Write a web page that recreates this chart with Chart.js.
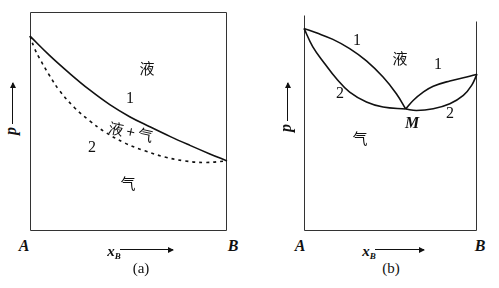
<!DOCTYPE html>
<html>
<head>
<meta charset="utf-8">
<script src="https://cdn.jsdelivr.net/npm/chart.js@4.4.1/dist/chart.umd.min.js"></script>
<style>
body{margin:0;background:#fff;width:499px;height:288px;position:relative;overflow:hidden;color:#111;font-family:"Liberation Serif","DejaVu Serif",serif}
canvas{position:absolute}
.t{position:absolute;transform:translate(-50%,-50%);white-space:nowrap;line-height:1}
.cn{font-family:"Noto Sans CJK SC",sans-serif;font-size:15px}
.num{font-size:16px}
.ab{font-size:16px;font-style:italic;font-weight:bold}
.cap{font-size:15px}
.xb{font-size:15px;font-style:italic;font-weight:bold}
.xb sub{font-size:9px;vertical-align:-3px}
.harrow{position:absolute;height:0;border-top:1px solid #111}
.harrow:after{content:"";position:absolute;right:-1px;top:-3.5px;border-left:6px solid #111;border-top:3px solid transparent;border-bottom:3px solid transparent}
.varrow{position:absolute;width:0;border-left:1px solid #111}
.varrow:after{content:"";position:absolute;top:-1px;left:-3.5px;border-bottom:6px solid #111;border-left:3px solid transparent;border-right:3px solid transparent}
.p{font-size:16px;font-style:italic;font-weight:bold}
</style>
</head>
<body>
<canvas id="chartA" width="205" height="227" style="left:26px;top:8px"></canvas>
<canvas id="chartB" width="181" height="227" style="left:300px;top:8px"></canvas>

<!-- (a) labels -->
<div class="t cn" style="left:147px;top:67px">液</div>
<div class="t num" style="left:130px;top:98px">1</div>
<div class="t cn" style="left:131px;top:131px;transform:translate(-50%,-50%) rotate(12deg)">液 + 气</div>
<div class="t num" style="left:92px;top:147px">2</div>
<div class="t cn" style="left:128px;top:182px">气</div>
<div class="t ab" style="left:24px;top:246px">A</div>
<div class="t ab" style="left:233px;top:246px">B</div>
<div class="t xb" style="left:114px;top:252px">x<sub>B</sub></div>
<div class="harrow" style="left:120px;top:249px;width:53px"></div>
<div class="t cap" style="left:141px;top:268px">(a)</div>
<div class="t p" style="left:11px;top:131px;transform:translate(-50%,-50%) rotate(-90deg)">p</div>
<div class="varrow" style="left:12px;top:83px;height:41px"></div>

<!-- (b) labels -->
<div class="t num" style="left:357px;top:40px">1</div>
<div class="t cn" style="left:400px;top:57px">液</div>
<div class="t num" style="left:438px;top:64px">1</div>
<div class="t num" style="left:340px;top:93px">2</div>
<div class="t num" style="left:450px;top:113px">2</div>
<div class="t ab" style="left:412px;top:123px">M</div>
<div class="t cn" style="left:360px;top:137px">气</div>
<div class="t ab" style="left:300px;top:246px">A</div>
<div class="t ab" style="left:480px;top:246px">B</div>
<div class="t xb" style="left:369px;top:252px">x<sub>B</sub></div>
<div class="harrow" style="left:375px;top:249px;width:49px"></div>
<div class="t cap" style="left:391px;top:268px">(b)</div>
<div class="t p" style="left:286px;top:128px;transform:translate(-50%,-50%) rotate(-90deg)">p</div>
<div class="varrow" style="left:287px;top:83px;height:38px"></div>

<script>
// (a) liquid line 1 (solid) and vapour line 2 (dashed)
const xLiquidA = [0, 0.099, 0.201, 0.303, 0.405, 0.506, 0.608, 0.710, 0.812, 0.913, 1];
const pLiquidA = [0.890, 0.802, 0.720, 0.644, 0.577, 0.522, 0.476, 0.432, 0.391, 0.352, 0.320];
const xVaporA = [0, 0.023, 0.048, 0.099, 0.150, 0.226, 0.303, 0.379, 0.481, 0.583, 0.684, 0.786, 0.888, 1];
const pVaporA = [0.890, 0.834, 0.789, 0.710, 0.641, 0.563, 0.503, 0.453, 0.402, 0.366, 0.338, 0.320, 0.313, 0.320];

// (b) azeotrope, minimum at M
const xLiquidBLeft = [0, 0.071, 0.167, 0.264, 0.361, 0.457, 0.534, 0.588];
const pLiquidBLeft = [0.925, 0.905, 0.875, 0.833, 0.777, 0.703, 0.627, 0.557];
const xVaporBLeft = [0, 0.051, 0.119, 0.187, 0.264, 0.361, 0.457, 0.588];
const pVaporBLeft = [0.925, 0.841, 0.765, 0.696, 0.634, 0.589, 0.566, 0.557];
const xLiquidBRight = [0.588, 0.631, 0.689, 0.747, 0.843, 0.940, 1];
const pLiquidBRight = [0.557, 0.596, 0.634, 0.661, 0.685, 0.703, 0.716];
const xVaporBRight = [0.588, 0.650, 0.747, 0.843, 0.921, 0.969, 1];
const pVaporBRight = [0.557, 0.550, 0.558, 0.581, 0.619, 0.665, 0.716];

const pts = (xs, ys) => xs.map((x, i) => ({x: x, y: ys[i]}));

const line = (xs, ys, dash) => ({
    data: pts(xs, ys),
    borderColor: '#111',
    borderWidth: 1.6,
    borderDash: dash || [],
    pointRadius: 0,
    fill: false,
    tension: 0.4,
    clip: false
});

// frame: full box for (a), open top for (b)
const frame = {
    id: 'frame',
    beforeDatasetsDraw(chart, args, opts) {
        const a = chart.chartArea, c = chart.ctx;
        const l = Math.round(a.left) + .5, r = Math.round(a.right) - .5;
        const t = Math.round(a.top) + .5, b = Math.round(a.bottom) - .5;
        c.save();
        c.strokeStyle = '#333';
        c.lineWidth = 1;
        c.beginPath();
        if (opts.open) {
            c.moveTo(l, t + 3); c.lineTo(l, b); c.lineTo(r, b); c.lineTo(r, t + 9);
        } else {
            c.rect(l, t, r - l, b - t);
        }
        c.stroke();
        c.restore();
    }
};

const opts = (open) => ({
    responsive: false,
    animation: false,
    layout: {padding: 4},
    scales: {
        x: {type: 'linear', min: 0, max: 1, display: false},
        y: {min: 0, max: 1, display: false}
    },
    plugins: {legend: {display: false}, tooltip: {enabled: false}, frame: {open: open}}
});

new Chart(document.getElementById('chartA'), {
    type: 'line',
    data: {datasets: [
        line(xLiquidA, pLiquidA),
        line(xVaporA, pVaporA, [3, 4])
    ]},
    options: opts(false),
    plugins: [frame]
});

new Chart(document.getElementById('chartB'), {
    type: 'line',
    data: {datasets: [
        line(xLiquidBLeft, pLiquidBLeft),
        line(xVaporBLeft, pVaporBLeft),
        line(xLiquidBRight, pLiquidBRight),
        line(xVaporBRight, pVaporBRight)
    ]},
    options: opts(true),
    plugins: [frame]
});
</script>
</body>
</html>
